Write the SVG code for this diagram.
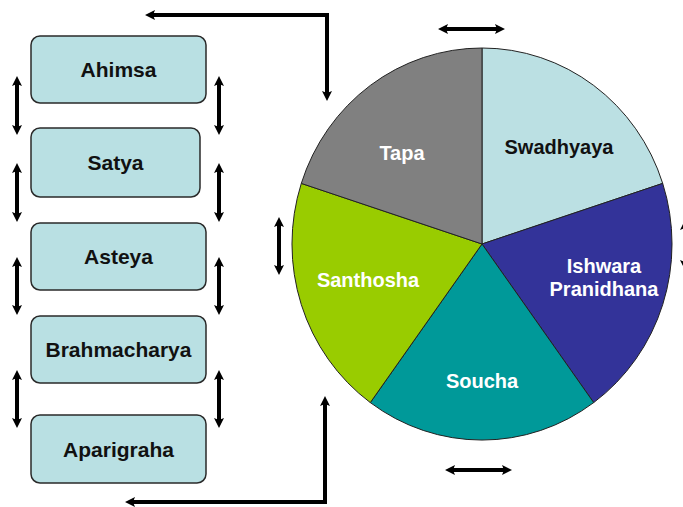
<svg xmlns="http://www.w3.org/2000/svg" width="683" height="507" viewBox="0 0 683 507">
  <style>
    .box rect { fill: #b9e0e3; stroke: #2a2a2a; stroke-width: 1.5; }
    .box text { font-family: "Liberation Sans", Arial, sans-serif; font-weight: bold; font-size: 21px; fill: #111; text-anchor: middle; }
    .slice path { stroke: #222; stroke-width: 1; }
    .slice text { font-family: "Liberation Sans", Arial, sans-serif; font-weight: bold; font-size: 20px; fill: #fff; text-anchor: middle; }
    .conn { stroke: #000; stroke-width: 4; fill: none; }
  </style>
  <defs>
    <marker id="head" viewBox="0 0 10 10" refX="2" refY="5" markerWidth="10" markerHeight="11" markerUnits="userSpaceOnUse" orient="auto-start-reverse">
      <path d="M0,0 L10,5 L0,10 L2,5 z" fill="#000"/>
    </marker>
  </defs>

  <!-- Yamas -->
  <g id="ahimsa" class="box"><rect x="31" y="36" width="175" height="67" rx="9"/><text x="118.5" y="77">Ahimsa</text></g>
  <g id="satya" class="box"><rect x="31" y="128" width="169" height="69" rx="9"/><text x="115.5" y="170">Satya</text></g>
  <g id="asteya" class="box"><rect x="31" y="223" width="175" height="67" rx="9"/><text x="118.5" y="264">Asteya</text></g>
  <g id="brahmacharya" class="box"><rect x="31" y="316" width="175" height="67" rx="9"/><text x="118.5" y="357">Brahmacharya</text></g>
  <g id="aparigraha" class="box"><rect x="31" y="415" width="175" height="68" rx="9"/><text x="118.5" y="457">Aparigraha</text></g>

  <!-- Niyamas pie -->
  <g id="swadhyaya" class="slice">
    <path d="M482,244 L482,48 A190,196 0 0 1 662.7,183.4 Z" fill="#bbe0e3"/>
    <text x="559" y="154" style="fill:#111">Swadhyaya</text>
  </g>
  <g id="ishwara-pranidhana" class="slice">
    <path d="M482,244 L662.7,183.4 A190,196 0 0 1 593.7,402.6 Z" fill="#333399"/>
    <text x="604" y="273">Ishwara</text>
    <text x="604" y="296">Pranidhana</text>
  </g>
  <g id="soucha" class="slice">
    <path d="M482,244 L593.7,402.6 A190,196 0 0 1 370.3,402.6 Z" fill="#009999"/>
    <text x="482" y="388">Soucha</text>
  </g>
  <g id="santhosha" class="slice">
    <path d="M482,244 L370.3,402.6 A190,196 0 0 1 301.3,183.4 Z" fill="#99cc00"/>
    <text x="368" y="287">Santhosha</text>
  </g>
  <g id="tapa" class="slice">
    <path d="M482,244 L301.3,183.4 A190,196 0 0 1 482,48 Z" fill="#808080"/>
    <text x="402" y="160">Tapa</text>
  </g>

  <!-- Connectors -->
  <g id="connectors">
    <path class="conn" d="M327,93 L327,15 L153,15" marker-start="url(#head)" marker-end="url(#head)"/>
    <path class="conn" d="M325,404 L325,502 L133,502" marker-start="url(#head)" marker-end="url(#head)"/>

    <line class="conn" x1="17" y1="84" x2="17" y2="127" marker-start="url(#head)" marker-end="url(#head)"/>
    <line class="conn" x1="17" y1="171" x2="17" y2="214" marker-start="url(#head)" marker-end="url(#head)"/>
    <line class="conn" x1="17" y1="265" x2="17" y2="307" marker-start="url(#head)" marker-end="url(#head)"/>
    <line class="conn" x1="17" y1="378" x2="17" y2="420" marker-start="url(#head)" marker-end="url(#head)"/>

    <line class="conn" x1="219" y1="84" x2="219" y2="127" marker-start="url(#head)" marker-end="url(#head)"/>
    <line class="conn" x1="219" y1="171" x2="219" y2="214" marker-start="url(#head)" marker-end="url(#head)"/>
    <line class="conn" x1="219" y1="265" x2="219" y2="307" marker-start="url(#head)" marker-end="url(#head)"/>
    <line class="conn" x1="219" y1="378" x2="219" y2="420" marker-start="url(#head)" marker-end="url(#head)"/>

    <line class="conn" x1="446" y1="29" x2="497" y2="29" marker-start="url(#head)" marker-end="url(#head)"/>
    <line class="conn" x1="453" y1="470" x2="504" y2="470" marker-start="url(#head)" marker-end="url(#head)"/>
    <line class="conn" x1="279" y1="225" x2="279" y2="267" marker-start="url(#head)" marker-end="url(#head)"/>
    <line class="conn" x1="685" y1="228" x2="685" y2="262" marker-start="url(#head)" marker-end="url(#head)"/>
  </g>
</svg>
